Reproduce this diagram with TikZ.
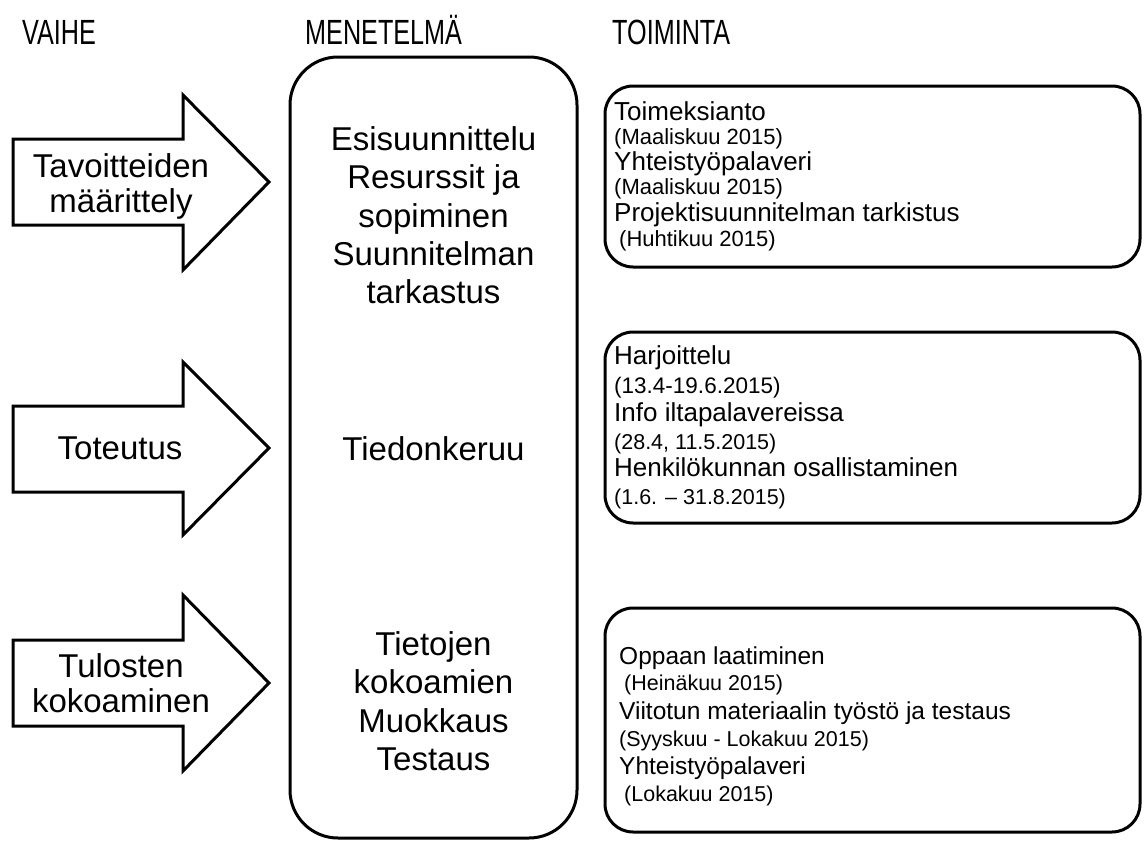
\documentclass[tikz,border=0pt]{standalone}
\usepackage{fontspec}
\setmainfont{Liberation Sans}
\newfontfamily\hdrfont[FakeStretch=0.72]{Liberation Sans}
\begin{document}
\begin{tikzpicture}[x=1pt,y=-1pt,
  box/.style={draw=black, line width=3pt},
  arrowshape/.style={draw=black, line width=3pt, line join=miter, fill=white},
  hdr/.style={font=\hdrfont\fontsize{35}{40}\selectfont, anchor=base west, inner sep=0pt},
  big/.style={font=\fontsize{33}{38}\selectfont, anchor=base, inner sep=0pt},
  act/.style={font=\fontsize{26}{30}\selectfont, anchor=base west, inner sep=0pt},
  actb/.style={font=\fontsize{24.5}{30}\selectfont, anchor=base west, inner sep=0pt},
  dat/.style={font=\fontsize{21.5}{25}\selectfont, anchor=base west, inner sep=0pt},
  datb/.style={font=\fontsize{22}{25}\selectfont, anchor=base west, inner sep=0pt}]
\useasboundingbox (0,0) rectangle (1144,841);
% headers
\node[hdr] (h1) at (22,44) {VAIHE};
\node[hdr] (h2) at (305,44) {MENETELMÄ};
\node[hdr] (h3) at (612,44) {TOIMINTA};
% arrows
\draw[arrowshape] (13,139) -- (183,139) -- (183,95) -- (269,182) -- (183,270) -- (183,225) -- (13,225) -- cycle;
\draw[arrowshape] (13,406) -- (183,406) -- (183,362) -- (269,448) -- (183,535) -- (183,492) -- (13,492) -- cycle;
\draw[arrowshape] (13,640) -- (183,640) -- (183,595) -- (269,683) -- (183,771) -- (183,726) -- (13,726) -- cycle;
\node[big] (a1a) at (121,177) {Tavoitteiden};
\node[big] (a1b) at (121,212) {määrittely};
\node[big] (a2) at (120,459) {Toteutus};
\node[big] (a3a) at (121,677) {Tulosten};
\node[big] (a3b) at (121,712) {kokoaminen};
% centre box
\draw[box, rounded corners=48pt] (290,57) rectangle (577,838);
\node[big] (m1) at (433.5,150) {Esisuunnittelu};
\node[big] (m2) at (433.5,188) {Resurssit ja};
\node[big] (m3) at (433.5,227) {sopiminen};
\node[big] (m4) at (433.5,265) {Suunnitelman};
\node[big] (m5) at (433.5,303) {tarkastus};
\node[big] (m6) at (433.5,460) {Tiedonkeruu};
\node[big] (m7) at (433.5,655) {Tietojen};
\node[big] (m8) at (433.5,693) {kokoamien};
\node[big] (m9) at (433.5,732) {Muokkaus};
\node[big] (m10) at (433.5,770) {Testaus};
% right boxes
\draw[box, rounded corners=28pt] (605,86) rectangle (1140,267);
\draw[box, rounded corners=28pt] (605,332) rectangle (1140,523);
\draw[box, rounded corners=28pt] (605,608) rectangle (1140,832);
\node[act] (t1) at (614,120) {Toimeksianto};
\node[datb] (t2) at (614,144) {(Maaliskuu 2015)};
\node[act] (t3) at (614,170) {Yhteistyöpalaveri};
\node[datb] (t4) at (614,194) {(Maaliskuu 2015)};
\node[act] (t5) at (614,221) {Projektisuunnitelman tarkistus};
\node[datb] (t6) at (619,246) {(Huhtikuu 2015)};
\node[act] (u1) at (614,364) {Harjoittelu};
\node[datb, font=\fontsize{22.5}{25}\selectfont] (u2) at (614,393) {(13.4-19.6.2015)};
\node[act] (u3) at (614,421) {Info iltapalavereissa};
\node[dat] (u4) at (614,449) {(28.4, 11.5.2015)};
\node[act] (u5) at (614,476) {Henkilökunnan osallistaminen};
\node[dat] (u6) at (614,504) {(1.6. – 31.8.2015)};
\node[actb] (v1) at (619,664) {Oppaan laatiminen};
\node[dat] (v2) at (624,690) {(Heinäkuu 2015)};
\node[actb] (v3) at (619,719) {Viitotun materiaalin työstö ja testaus};
\node[dat] (v4) at (619,746) {(Syyskuu - Lokakuu 2015)};
\node[actb] (v5) at (619,774) {Yhteistyöpalaveri};
\node[dat] (v6) at (624,801) {(Lokakuu 2015)};
\end{tikzpicture}
\end{document}
